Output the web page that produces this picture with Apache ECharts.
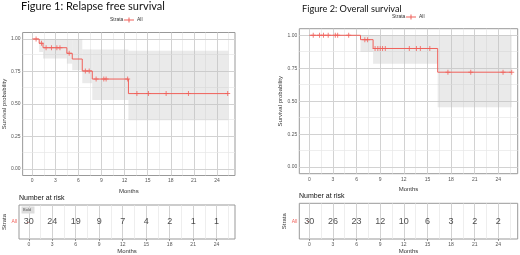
<!DOCTYPE html>
<html>
<head>
<meta charset="utf-8">
<script src="https://cdn.jsdelivr.net/npm/echarts@6/dist/echarts.min.js"></script>
<style>
  html, body { margin: 0; padding: 0; background: #fff; }
  #chart { width: 520px; height: 255px; }
</style>
</head>
<body>
<div id="chart"></div>
<script>
// axis breaks
const monthTicks = [0, 3, 6, 9, 12, 15, 18, 21, 24]
const monthMinor = [1.5, 4.5, 7.5, 10.5, 13.5, 16.5, 19.5, 22.5, 25.5]
const probTicks = [0, 0.25, 0.5, 0.75, 1]
const probMinor = [0.125, 0.375, 0.625, 0.875]

// Figure 1: relapse free survival
const rfsTime = [0, 0.9, 1.4, 4.5, 5.2, 6.5, 7.8, 12.5, 25.5]
const rfsSurv = [1, 0.967, 0.933, 0.89, 0.846, 0.754, 0.692, 0.58, 0.58]
const rfsCensorTime = [0.5, 1.2, 1.8, 2.5, 3.2, 3.6, 4.8, 6.9, 7.4, 8.3, 9.3, 9.6, 12.4, 13.6, 15.1, 17.4, 20.3, 25.4]
const rfsCensorSurv = [1, 0.967, 0.933, 0.933, 0.933, 0.933, 0.89, 0.754, 0.754, 0.692, 0.692, 0.692, 0.692, 0.58, 0.58, 0.58, 0.58, 0.58]
const rfsBandStart = [0.9, 1.4, 4.5, 5.2, 6.5, 7.8, 12.5]
const rfsBandEnd = [1.4, 4.5, 5.2, 6.5, 7.8, 12.5, 25.5]
const rfsBandLow = [0.9, 0.85, 0.81, 0.76, 0.66, 0.53, 0.375]
const rfsBandHigh = [1, 1, 1, 1, 0.92, 0.92, 0.91]
const rfsAtRisk = [30, 24, 19, 9, 7, 4, 2, 1, 1]

// Figure 2: overall survival
const osTime = [0, 6.5, 8.1, 16.3, 25.7]
const osSurv = [1, 0.967, 0.9, 0.72, 0.72]
const osCensorTime = [0.5, 1.3, 1.8, 2.4, 3.3, 3.6, 5.0, 7.05, 7.4, 8.35, 8.7, 9.0, 9.3, 9.65, 12.7, 13.6, 14.1, 15.3, 17.6, 20.5, 24.6, 25.7]
const osCensorSurv = [1, 1, 1, 1, 1, 1, 1, 0.967, 0.967, 0.9, 0.9, 0.9, 0.9, 0.9, 0.9, 0.9, 0.9, 0.9, 0.72, 0.72, 0.72, 0.72]
const osBandStart = [6.5, 8.1, 16.3]
const osBandEnd = [8.1, 16.3, 25.7]
const osBandLow = [0.873, 0.785, 0.455]
const osBandHigh = [1, 1, 1]
const osAtRisk = [30, 26, 23, 12, 10, 6, 3, 2, 2]

const RED = '#F0605A'
const PLUS = 'path://M4,0H6V4H10V6H6V10H4V6H0V4H4Z'
const TXT = 'Liberation Sans'
const MAJ = '#d2d2d2'
const MIN = '#e6e6e6'

const zip = (...cols) => cols[0].map((_, i) => cols.map(c => c[i]))

const chart = echarts.init(document.getElementById('chart'))

// 网格线：用 markLine 画主 / 次网格
const gridMarks = (withY) => {
  const data = [
    ...monthMinor.map(v => ({ xAxis: v, lineStyle: { color: MIN, width: 0.7 } })),
    ...monthTicks.map(v => ({ xAxis: v, lineStyle: { color: MAJ, width: 1 } }))
  ]
  if (withY) {
    data.push(...probMinor.map(v => ({ yAxis: v, lineStyle: { color: MIN, width: 0.7 } })))
    data.push(...probTicks.map(v => ({ yAxis: v, lineStyle: { color: MAJ, width: 1 } })))
  }
  return { silent: true, symbol: 'none', animation: false, z: 1, label: { show: false },
    lineStyle: { type: 'solid' }, emphasis: { disabled: true }, data }
}

// 置信区间
const band = (xi, yi, rows) => ({
  type: 'custom', xAxisIndex: xi, yAxisIndex: yi, silent: true, z: 2,
  data: rows,
  renderItem: (params, api) => {
    const p0 = api.coord([api.value(0), api.value(3)])
    const p1 = api.coord([api.value(1), api.value(2)])
    return { type: 'rect', shape: { x: p0[0], y: p0[1], width: p1[0] - p0[0], height: p1[1] - p0[1] },
      style: { fill: 'rgba(190,190,190,0.33)' } }
  },
  markLine: gridMarks(true)
})

const survLine = (xi, yi, data) => ({
  name: 'All', type: 'line', step: 'end', xAxisIndex: xi, yAxisIndex: yi, z: 3,
  data, showSymbol: false, lineStyle: { color: RED, width: 1 }, itemStyle: { color: RED }
})
const censor = (xi, yi, data) => ({
  name: 'All', type: 'scatter', xAxisIndex: xi, yAxisIndex: yi, z: 4,
  data, symbol: PLUS, symbolSize: 5, itemStyle: { color: RED }
})
const riskNums = (xi, yi, counts) => ({
  type: 'scatter', xAxisIndex: xi, yAxisIndex: yi, z: 4,
  data: monthTicks.map((m, i) => [m, 'All', counts[i]]),
  symbolSize: 1, itemStyle: { color: 'rgba(0,0,0,0)' },
  label: { show: true, position: 'inside', formatter: p => p.value[2],
    fontFamily: TXT, fontSize: 9, color: '#222' },
  markLine: gridMarks(false)
})

const tickStyle = { show: true, length: 2, lineStyle: { color: '#555', width: 0.6 } }
const monthAxis = (gi, min, max) => ({
  type: 'value', gridIndex: gi, min, max,
  axisLine: { show: false }, splitLine: { show: false },
  axisTick: { ...tickStyle, customValues: monthTicks },
  axisLabel: { customValues: monthTicks, fontFamily: TXT, fontSize: 5, color: '#555', margin: 3 },
  name: 'Months', nameLocation: 'middle', nameGap: 9,
  nameTextStyle: { fontFamily: TXT, fontSize: 6, color: '#333' }
})
const probAxis = (gi) => ({
  type: 'value', gridIndex: gi, min: -0.05, max: 1.05,
  axisLine: { show: false }, splitLine: { show: false },
  axisTick: { ...tickStyle, customValues: probTicks },
  axisLabel: { customValues: probTicks, formatter: v => v.toFixed(2),
    fontFamily: TXT, fontSize: 5, color: '#555', margin: 2 },
  name: 'Survival probability', nameLocation: 'middle', nameRotate: 90, nameGap: 11,
  nameTextStyle: { fontFamily: TXT, fontSize: 6, color: '#333' }
})
const strataAxis = (gi) => ({
  type: 'category', gridIndex: gi, data: ['All'],
  axisLine: { show: false }, splitLine: { show: false },
  axisTick: { show: true, length: 2, alignWithLabel: true, lineStyle: { color: RED, width: 0.6 } },
  axisLabel: { fontFamily: TXT, fontSize: 5, color: RED, margin: 2 },
  name: 'Strata', nameLocation: 'middle', nameRotate: 90, nameGap: 11,
  nameTextStyle: { fontFamily: TXT, fontSize: 6, color: '#333' }
})

const panel = { show: true, borderColor: '#999', borderWidth: 1 }

const legendFor = (left, top) => ({
  left, top, padding: 0, data: ['All'], itemWidth: 10, itemHeight: 5, itemGap: 2,
  icon: 'path://M0,4H20V6H0Z M9,0H11V10H9Z', selectedMode: false,
  textStyle: { fontFamily: TXT, fontSize: 5, color: '#333', padding: [0, 0, 0, -2] }
})

const titleStyle = (size, family) => ({ fontFamily: family, fontSize: size, fontWeight: 'normal', color: '#111' })

const option = {
  animation: false,
  title: [
    { text: 'Figure 1: Relapse free survival', left: 21, top: 1, padding: 0, textStyle: titleStyle(11, 'Lato') },
    { text: 'Figure 2: Overall survival', left: 302, top: 5, padding: 0, textStyle: titleStyle(9.2, 'Lato') },
    { text: 'Number at risk', left: 19, top: 195, padding: 0, textStyle: titleStyle(7, TXT) },
    { text: 'Number at risk', left: 299, top: 193, padding: 0, textStyle: titleStyle(7, TXT) }
  ],
  legend: [legendFor(124, 17.5), legendFor(406, 14.5)],
  graphic: [
    { type: 'text', left: 110, top: 17.3, style: { text: 'Strata', fontFamily: TXT, fontSize: 5, fill: '#333' } },
    { type: 'text', left: 392, top: 14.3, style: { text: 'Strata', fontFamily: TXT, fontSize: 5, fill: '#333' } },
    { type: 'rect', left: 21.5, top: 206.5, shape: { width: 13, height: 7 }, style: { fill: '#ddd' }, z: 10 },
    { type: 'text', left: 23, top: 208, z: 11, style: { text: 'Bold', fontFamily: TXT, fontSize: 4, fill: '#555' } }
  ],
  grid: [
    { left: 19, top: 32.5, width: 216, height: 143, ...panel },
    { left: 19, top: 205, width: 216, height: 34, ...panel },
    { left: 299.3, top: 28.7, width: 218.4, height: 145, ...panel },
    { left: 299.3, top: 203.3, width: 218.4, height: 36, ...panel }
  ],
  xAxis: [
    monthAxis(0, -1.25, 26.35),
    monthAxis(1, -1.25, 26.35),
    monthAxis(2, -1.27, 26.46),
    monthAxis(3, -1.27, 26.46)
  ],
  yAxis: [probAxis(0), strataAxis(1), probAxis(2), strataAxis(3)],
  series: [
    band(0, 0, zip(rfsBandStart, rfsBandEnd, rfsBandLow, rfsBandHigh)),
    survLine(0, 0, zip(rfsTime, rfsSurv)),
    censor(0, 0, zip(rfsCensorTime, rfsCensorSurv)),
    riskNums(1, 1, rfsAtRisk),

    band(2, 2, zip(osBandStart, osBandEnd, osBandLow, osBandHigh)),
    survLine(2, 2, zip(osTime, osSurv)),
    censor(2, 2, zip(osCensorTime, osCensorSurv)),
    riskNums(3, 3, osAtRisk)
  ]
}

chart.setOption(option)
</script>
</body>
</html>
